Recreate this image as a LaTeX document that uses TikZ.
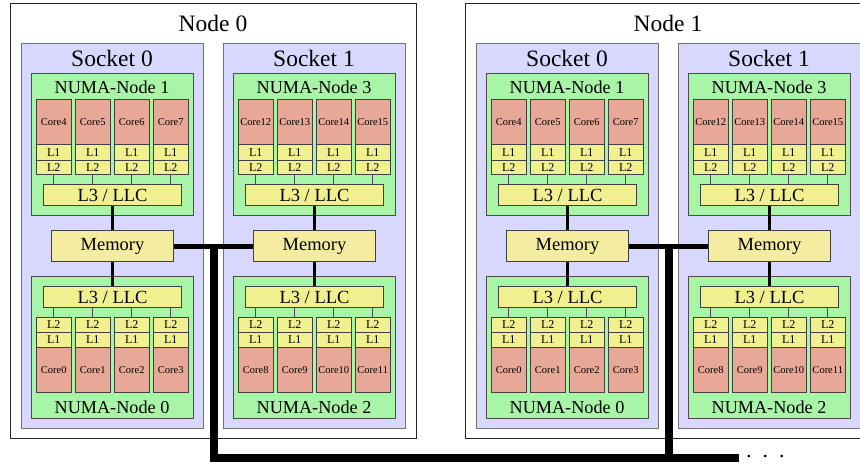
\documentclass[tikz,border=0pt]{standalone}
\usepackage{fontspec}
\setmainfont{Liberation Serif}
\definecolor{sockfill}{RGB}{216,216,255}
\definecolor{numafill}{RGB}{168,245,168}
\definecolor{corefill}{RGB}{232,168,152}
\definecolor{cachefill}{RGB}{240,240,144}
\definecolor{memfill}{RGB}{244,236,160}
\tikzset{
  hostbox/.style={draw=black!85,line width=1pt,fill=white,inner sep=0pt,anchor=north west},
  sockbox/.style={draw=black!55,line width=1pt,fill=sockfill,inner sep=0pt,anchor=north west,
    minimum width=182,minimum height=385},
  numabox/.style={draw=black!70,line width=1pt,fill=numafill,inner sep=0pt,anchor=north west,
    minimum width=162,minimum height=142},
  corebox/.style={draw=black!75,line width=1pt,fill=corefill,inner sep=0pt,anchor=north west,
    minimum width=34.5,minimum height=45,font=\fontsize{10.5}{12}\selectfont},
  cachebox/.style={draw=black!75,line width=1pt,fill=cachefill,inner sep=0pt,anchor=north west,
    minimum width=34.5,font=\fontsize{12}{13}\selectfont},
  llcbox/.style={draw=black!75,line width=1pt,fill=cachefill,inner sep=0pt,anchor=north west,
    minimum width=138,minimum height=21,font=\fontsize{18.5}{20}\selectfont},
  membox/.style={draw=black!75,line width=1pt,fill=memfill,inner sep=0pt,anchor=north west,
    minimum width=122,minimum height=31,font=\fontsize{18.5}{20}\selectfont},
  bigtxt/.style={inner sep=0pt,font=\fontsize{23.5}{26}\selectfont},
  numatxt/.style={inner sep=0pt,font=\fontsize{18.2}{20}\selectfont},
  tapline/.style={draw=black!70,line width=0.9pt},
  memline/.style={draw=black,line width=2.6pt},
  linkline/.style={draw=black,line width=5pt},
  busline/.style={draw=black,line width=8pt,line join=miter},
}
% one socket: #1 name, #2 left x, #3 socket label,
% #4 upper NUMA label, #5 first core of upper NUMA node,
% #6 lower NUMA label, #7 first core of lower NUMA node
\newcommand\socketunit[7]{%
  \node[sockbox] (#1) at (#2,43) {};
  \node[bigtxt] (#1lab) at ({#2+91},58) {#3};
  % upper NUMA node
  \node[numabox] (#1nu) at ({#2+10},73) {};
  \node[numatxt] (#1nulab) at ({#2+91},87) {#4};
  \node[llcbox] (#1llcu) at ({#2+22},184) {L3 / LLC};
  \foreach \k in {0,...,3}{
    \pgfmathtruncatemacro\cnum{#5+\k}
    \node[corebox] (#1cu\k) at ({#2+15+39*\k},99) {Core\cnum};
    \node[cachebox,minimum height=16] (#1au\k) at ({#2+15+39*\k},144) {L1};
    \node[cachebox,minimum height=14] (#1bu\k) at ({#2+15+39*\k},160) {L2};
    \draw[tapline] (#1bu\k.south) -- (#1bu\k.south |- #1llcu.north);
  }
  % memory
  \node[membox] (#1mem) at ({#2+30},230) {Memory};
  \draw[memline] (#1llcu.south) -- (#1mem.north);
  % lower NUMA node
  \node[numabox] (#1nl) at ({#2+10},276) {};
  \node[numatxt] (#1nllab) at ({#2+91},407) {#6};
  \node[llcbox] (#1llcl) at ({#2+22},286) {L3 / LLC};
  \draw[memline] (#1mem.south) -- (#1llcl.north);
  \foreach \k in {0,...,3}{
    \pgfmathtruncatemacro\cnum{#7+\k}
    \node[cachebox,minimum height=15] (#1bl\k) at ({#2+15+39*\k},317) {L2};
    \node[cachebox,minimum height=15] (#1al\k) at ({#2+15+39*\k},332) {L1};
    \node[corebox] (#1cl\k) at ({#2+15+39*\k},347) {Core\cnum};
    \draw[tapline] (#1bl\k.north) -- (#1bl\k.north |- #1llcl.south);
  }
}
\begin{document}
\begin{tikzpicture}[x=1pt,y=-1pt]
\useasboundingbox (0,0) rectangle (860,464);
\clip (0,0) rectangle (860,464);
% compute nodes
\node[hostbox,minimum width=406,minimum height=435] (hostA) at (10,3) {};
\node[bigtxt] (hostAlab) at (213,23) {Node 0};
\node[hostbox,minimum width=406,minimum height=435] (hostB) at (465,3) {};
\node[bigtxt] (hostBlab) at (668,23) {Node 1};
\socketunit{aS}{21}{Socket 0}{NUMA-Node 1}{4}{NUMA-Node 0}{0}
\socketunit{aT}{223}{Socket 1}{NUMA-Node 3}{12}{NUMA-Node 2}{8}
\socketunit{bS}{476}{Socket 0}{NUMA-Node 1}{4}{NUMA-Node 0}{0}
\socketunit{bT}{678}{Socket 1}{NUMA-Node 3}{12}{NUMA-Node 2}{8}
% memory links inside each compute node
\draw[linkline] (aSmem.east) -- (aTmem.west);
\draw[linkline] (bSmem.east) -- (bTmem.west);
% interconnect
\coordinate (tapA) at (214,245.5);
\coordinate (tapB) at (669,245.5);
\coordinate (busturn) at (214,458);
\coordinate (busend) at (739,458);
\draw[busline] (tapA) -- (busturn) -- (busend);
\draw[busline] (tapB) -- (tapB |- busend);
\node[inner sep=0pt,anchor=west,font=\fontsize{22}{22}\selectfont] (more) at (746,457) {.\kern11pt.\kern11pt.};
\end{tikzpicture}
\end{document}
